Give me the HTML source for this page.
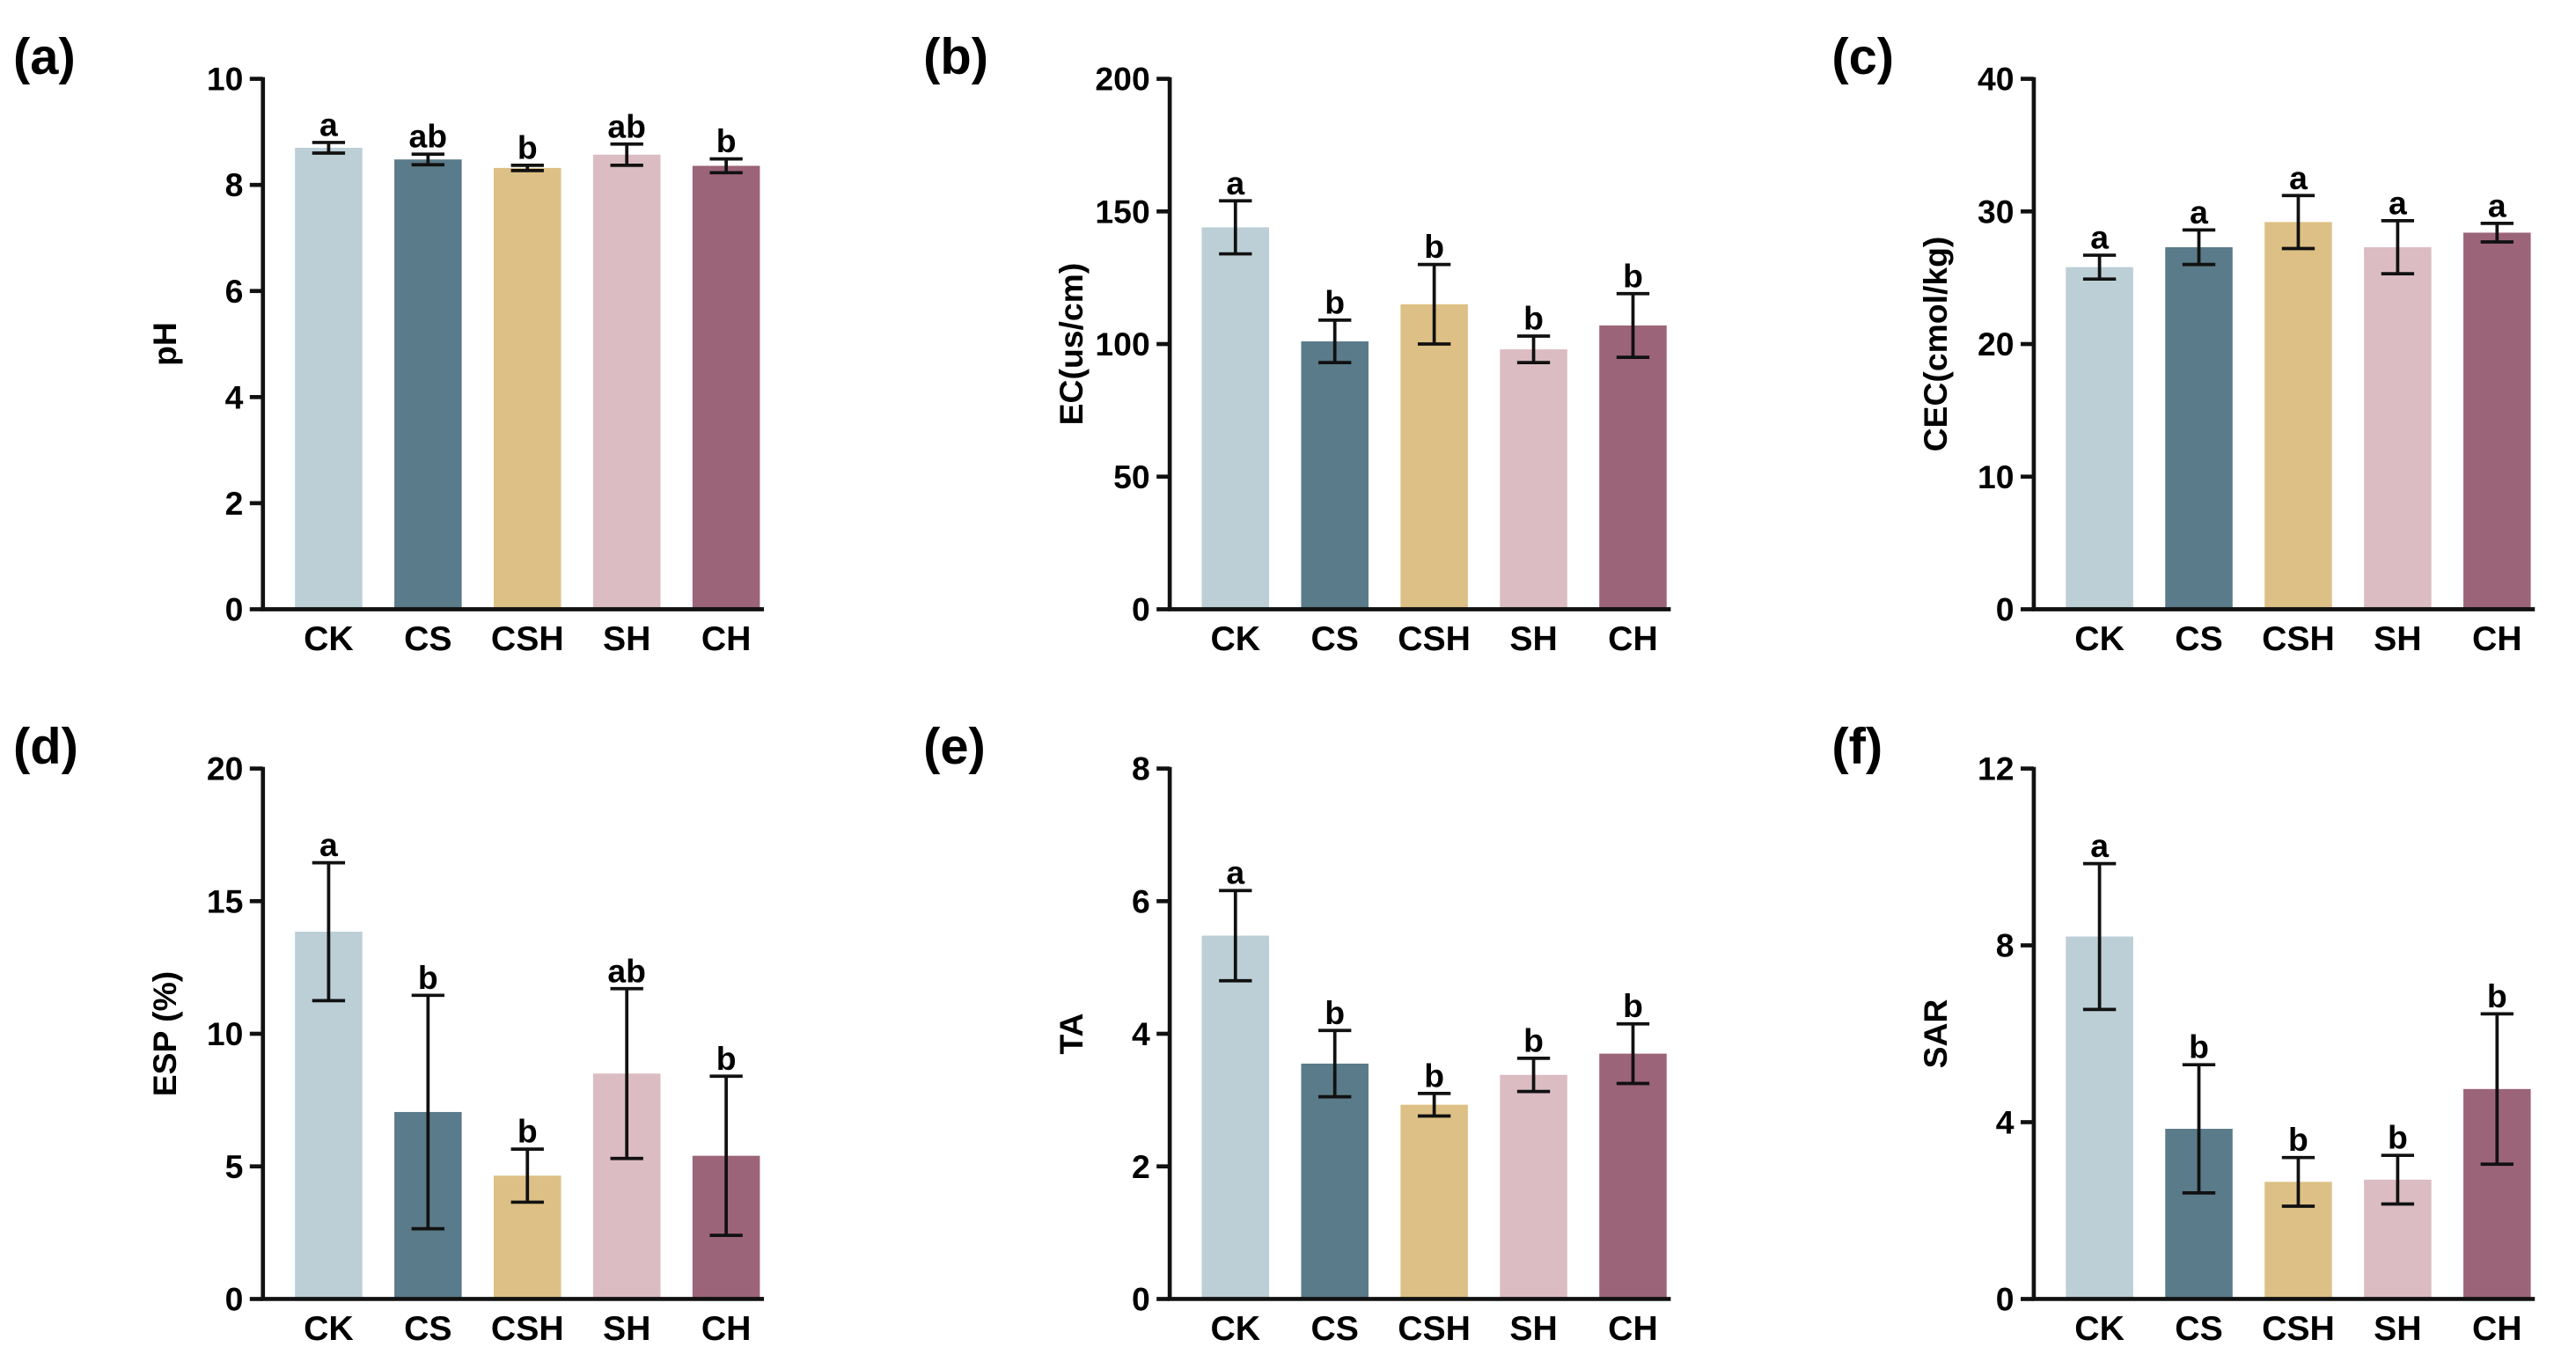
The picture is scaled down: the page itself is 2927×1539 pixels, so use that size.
<!DOCTYPE html>
<html><head><meta charset="utf-8"><style>
html,body{margin:0;padding:0;background:#fff;}
svg{display:block;font-family:"Liberation Sans",Arial,sans-serif;font-weight:bold;}
</style></head><body>
<svg id="fig" width="2927" height="1539" viewBox="0 0 1568 824.5" xmlns="http://www.w3.org/2000/svg"></svg>
<script>
const categories = ["CK","CS","CSH","SH","CH"];
const colors = ["#bccfd6","#5a7b89","#ddc085","#dbbcc2","#9c6479"];
const phMean = [8.70,8.48,8.32,8.57,8.36];
const phErr = [0.10,0.10,0.05,0.20,0.13];
const phLetters = ["a","ab","b","ab","b"];
const ecMean = [144,101,115,98,107];
const ecErr = [10,8,15,5,12];
const ecLetters = ["a","b","b","b","b"];
const cecMean = [25.8,27.3,29.2,27.3,28.4];
const cecErr = [0.9,1.3,2.0,2.0,0.7];
const cecLetters = ["a","a","a","a","a"];
const espMean = [13.85,7.05,4.65,8.5,5.4];
const espErr = [2.6,4.4,1.0,3.2,3.0];
const espLetters = ["a","b","b","ab","b"];
const taMean = [5.48,3.55,2.93,3.38,3.7];
const taErr = [0.68,0.5,0.17,0.25,0.45];
const taLetters = ["a","b","b","b","b"];
const sarMean = [8.2,3.85,2.65,2.7,4.75];
const sarErr = [1.65,1.45,0.55,0.55,1.7];
const sarLetters = ["a","b","b","b","b"];
const phTicks = [0,2,4,6,8,10];
const ecTicks = [0,50,100,150,200];
const cecTicks = [0,10,20,30,40];
const espTicks = [0,5,10,15,20];
const taTicks = [0,2,4,6,8];
const sarTicks = [0,4,8,12];

const NS="http://www.w3.org/2000/svg";
const svg=document.getElementById('fig');
function mk(tag,attrs,parent){const e=document.createElementNS(NS,tag);for(const k in attrs)e.setAttribute(k,attrs[k]);(parent||svg).appendChild(e);return e;}

function panel(id,label,lx,ax,top,zero,title,ticks,mean,err,letters){
  const g=mk('g',{});
  
  
  const ymax=ticks[ticks.length-1];
  const y=v=>zero-(v/ymax)*(zero-top);
  const x=i=>ax+40+i*60.5;
  const pl=mk('text',{x:lx,y:top-3,'font-size':31},g);
  pl.textContent='('+label+')';
  
  
  const yt=mk('text',{x:0,y:0,'font-size':20,'text-anchor':'middle',transform:`translate(${ax-53},${(top+zero)/2}) rotate(-90)`},g);
  yt.textContent=title;
  
  
  mean.forEach((m,i)=>{
    const b=mk('rect',{x:x(i)-20.5,y:y(m),width:41,height:zero-y(m),fill:colors[i]},g);
    
    
    const hi=y(m+err[i]),lo=y(m-err[i]);
    const eb=mk('path',{d:`M${x(i)} ${hi}V${lo}M${x(i)-10} ${hi}H${x(i)+10}M${x(i)-10} ${lo}H${x(i)+10}`,stroke:'#111','stroke-width':2,fill:'none'},g);
    
    
    const lt=mk('text',{x:x(i),y:hi-4,'font-size':20,'text-anchor':'middle'},g);
    lt.textContent=letters[i];
    
    
    const cl=mk('text',{x:x(i),y:zero+25,'font-size':21,'text-anchor':'middle'},g);
    cl.textContent=categories[i];
    
    
  });
  ticks.forEach(t=>{
    mk('line',{x1:ax-8,x2:ax,y1:y(t),y2:y(t),stroke:'#111','stroke-width':2.5},g);
    const tl=mk('text',{x:ax-12,y:y(t)+7,'font-size':20,'text-anchor':'end'},g);
    tl.textContent=t;
    
    
  });
  const axes=mk('path',{d:`M${ax} ${top-1}V${zero}H${ax+305}`,stroke:'#111','stroke-width':2.5,fill:'none'},g);
  
  
}
panel('a','a',8,160,48,371,'pH',phTicks,phMean,phErr,phLetters);
panel('b','b',562,712,48,371,'EC(us/cm)',ecTicks,ecMean,ecErr,ecLetters);
panel('c','c',1115,1238,48,371,'CEC(cmol/kg)',cecTicks,cecMean,cecErr,cecLetters);
panel('d','d',8,160,468,791,'ESP (%)',espTicks,espMean,espErr,espLetters);
panel('e','e',562,712,468,791,'TA',taTicks,taMean,taErr,taLetters);
panel('f','f',1115,1238,468,791,'SAR',sarTicks,sarMean,sarErr,sarLetters);
</script>
</body></html>
